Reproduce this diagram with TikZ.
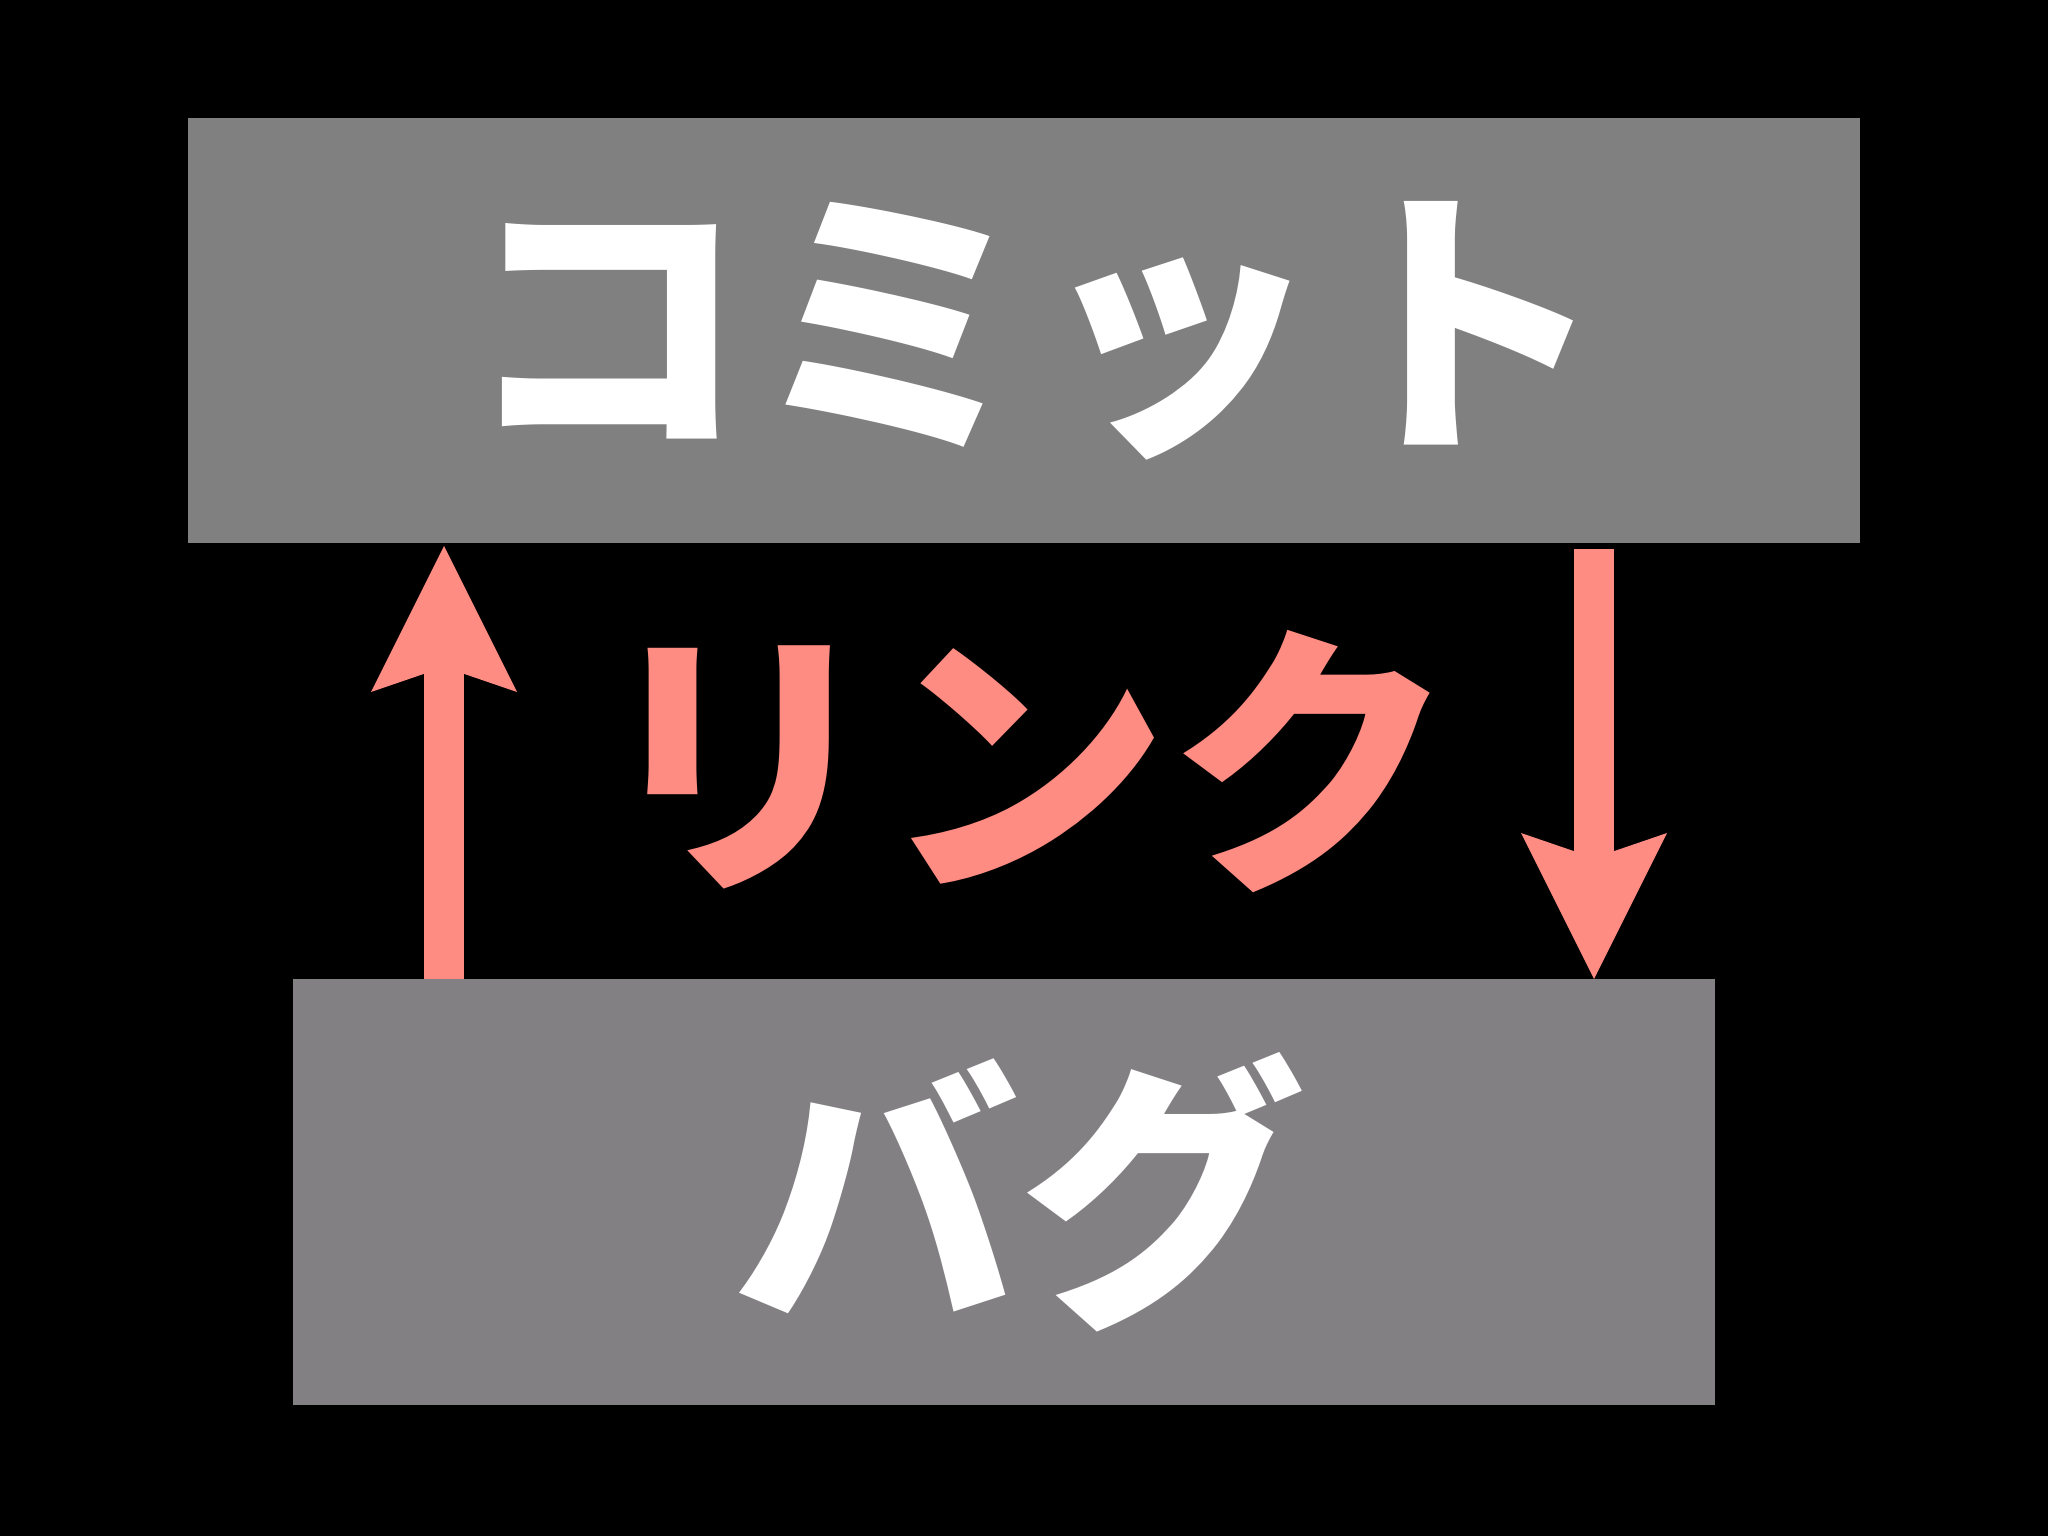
\documentclass[tikz,border=0pt]{standalone}
\usepackage{fontspec}
\newfontfamily\jp{Noto Sans CJK JP}
\usetikzlibrary{arrows.meta}
\definecolor{salmon}{HTML}{FF8C82}
\definecolor{boxgray}{HTML}{808080}
\definecolor{boxgrayb}{HTML}{828083}
\tikzset{
  box/.style={inner sep=0pt, outer sep=0pt, text=white,
    font=\jp\bfseries\fontsize{286}{286}\selectfont},
  linklabel/.style={inner sep=0pt, text=salmon,
    font=\jp\bfseries\fontsize{286}{286}\selectfont},
  bigarrow/.style={draw=salmon, line width=40pt, line cap=butt,
    -{Stealth[length=146pt, width=146pt, inset=25pt, line width=0pt, fill=salmon]}}
}
\begin{document}
\begin{tikzpicture}[x=1pt,y=-1pt]
\fill[black] (0,0) rectangle (2048,1536);
\useasboundingbox (0,0) rectangle (2048,1536);
\node[box, fill=boxgray, minimum width=1672pt, minimum height=425pt] (commit) at (1024,330.5) {\hspace*{22pt}コミット};
\node[box, fill=boxgrayb, minimum width=1422pt, minimum height=426pt] (bug) at (1004,1192) {\hspace*{30pt}バグ};
\node[linklabel] (link) at (1025,762) {リンク};
\coordinate (ux) at (444,0);
\coordinate (dx) at (1594,0);
\draw[bigarrow, shorten >=3pt] (bug.north -| ux) -- (commit.south -| ux);
\draw[bigarrow, shorten <=6pt] (commit.south -| dx) -- (bug.north -| dx);
\end{tikzpicture}
\end{document}
